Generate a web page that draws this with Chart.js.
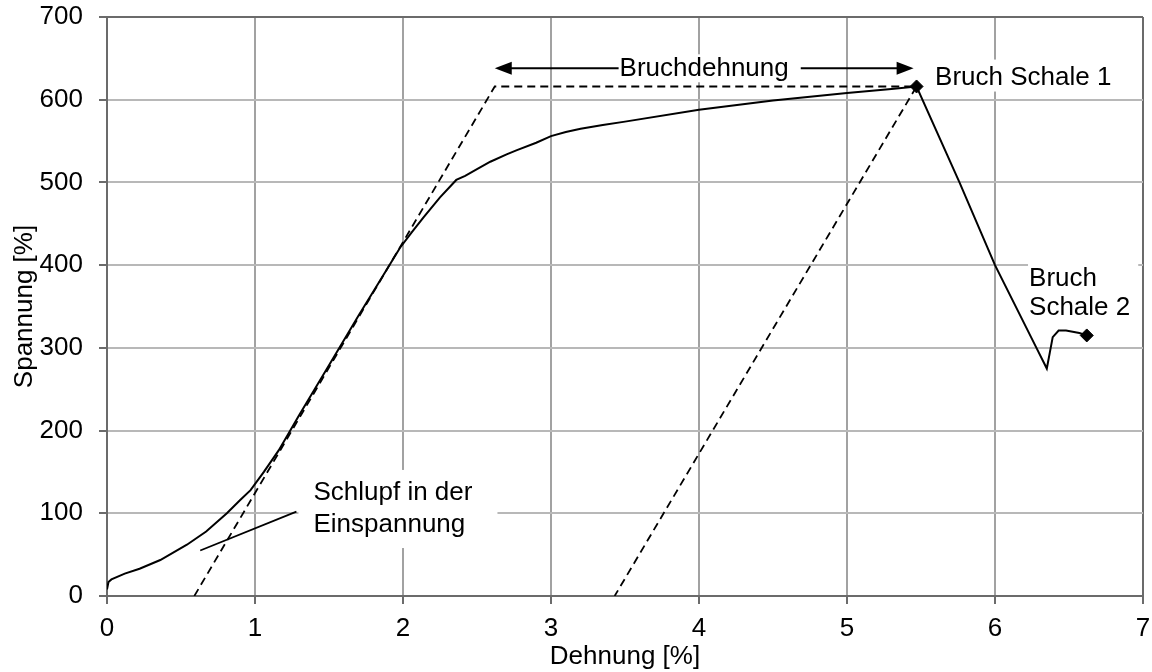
<!DOCTYPE html>
<html>
<head>
<meta charset="utf-8">
<script src="https://cdn.jsdelivr.net/npm/chart.js@4/dist/chart.umd.min.js"></script>
<style>
  html, body { margin: 0; padding: 0; background: #fff; }
  #wrap { width: 1152px; height: 672px; }
</style>
</head>
<body>
<div id="wrap"><canvas id="c"></canvas></div>
<script>
// Measured stress–strain curve (Dehnung in %, Spannung)
const curveStrain = [0, 0.01, 0.03, 0.12, 0.22, 0.36, 0.54, 0.67, 0.81, 0.90, 0.97, 1.06, 1.16, 1.30, 1.50, 1.70, 1.84, 1.98, 2.06, 2.14, 2.25, 2.36, 2.42, 2.50, 2.59, 2.70, 2.77, 2.90, 3.00, 3.10, 3.20, 3.35, 3.50, 4.00, 4.50, 5.00, 5.30, 5.47, 5.76, 6.00, 6.28, 6.35, 6.37, 6.39, 6.43, 6.48, 6.57, 6.62];
const curveStress = [8, 17, 20, 27, 33, 43.5, 62, 78, 100, 116, 128, 150, 176, 219, 279, 339, 380, 421, 440, 458, 482, 503, 508, 516, 525, 534, 539, 548, 556, 561, 565, 569.5, 573.5, 588, 599, 608, 613, 616, 500, 400, 300, 275, 294, 313, 321, 321, 318, 315];

// Failure points of shell 1 and shell 2
const breakStrain = [5.47, 6.62];
const breakStress = [616, 315];

// Elastic construction lines (offset start, yield plateau, unloading line)
const constructionStrain = [0.59, 2.62, 5.47, 3.43];
const constructionStress = [0, 616, 616, 0];

// Leader line for the clamping-slip note
const leaderStrain = [0.63, 1.28];
const leaderStress = [55, 102];

// Axis ticks
const strainTicks = [0, 1, 2, 3, 4, 5, 6, 7];
const stressTicks = [0, 100, 200, 300, 400, 500, 600, 700];

const toPoints = (xs, ys) => xs.map((v, i) => ({ x: v, y: ys[i] }));

const FONT = '"Liberation Sans", Arial, sans-serif';
const AXIS_DARK = '#6b6b6b';

// Elongation-at-break arrow and text notes (placed in data units)
const spanArrow = { from: 2.62, to: 5.45, at: 638, text: 'Bruchdehnung' };
const notes = [
  { lines: ['Bruch Schale 1'], x: 5.595, y: [628], pad: [7, 4, 5, 5] },
  { lines: ['Bruch', 'Schale 2'], x: 6.23, y: [385, 350], pad: [8, 8, 8, 1] },
  { lines: ['Schlupf in der', 'Einspannung'], x: 1.395, y: [125.8, 87], pad: [12, 25, 14, 15] }
];

const annotate = {
  id: 'annotate',
  beforeDatasetsDraw(chart) {
    const { ctx } = chart;
    const sx = chart.scales.x, sy = chart.scales.y;
    ctx.save();
    ctx.font = '26px ' + FONT;
    ctx.textBaseline = 'middle';

    // double-headed arrow with centred label
    const x1 = sx.getPixelForValue(spanArrow.from);
    const x2 = sx.getPixelForValue(spanArrow.to);
    const ya = sy.getPixelForValue(spanArrow.at);
    const head = 17, half = 6.5;
    ctx.strokeStyle = '#000';
    ctx.fillStyle = '#000';
    ctx.lineWidth = 2;
    ctx.beginPath();
    ctx.moveTo(x1 + head - 2, ya);
    ctx.lineTo(x2 - head + 2, ya);
    ctx.stroke();
    ctx.beginPath();
    ctx.moveTo(x1, ya); ctx.lineTo(x1 + head, ya - half); ctx.lineTo(x1 + head, ya + half); ctx.closePath();
    ctx.fill();
    ctx.beginPath();
    ctx.moveTo(x2, ya); ctx.lineTo(x2 - head, ya - half); ctx.lineTo(x2 - head, ya + half); ctx.closePath();
    ctx.fill();
    const tw = ctx.measureText(spanArrow.text).width;
    const xc = (x1 + x2) / 2;
    ctx.fillStyle = '#fff';
    ctx.fillRect(xc - tw / 2 - 1, ya - 14, tw + 13, 28);
    ctx.fillStyle = '#000';
    ctx.textAlign = 'left';
    ctx.fillText(spanArrow.text, xc - tw / 2, ya + 1);

    // text notes on white boxes
    notes.forEach(n => {
      const left = sx.getPixelForValue(n.x);
      const ys = n.y.map(v => sy.getPixelForValue(v));
      const w = Math.max(...n.lines.map(t => ctx.measureText(t).width));
      const top = Math.min(...ys) - 10 - n.pad[0];
      const bottom = Math.max(...ys) + 10 + n.pad[2];
      ctx.fillStyle = '#fff';
      ctx.fillRect(left - n.pad[3], top, w + n.pad[3] + n.pad[1], bottom - top);
      ctx.fillStyle = '#000';
      n.lines.forEach((t, i) => ctx.fillText(t, left, ys[i] + 1));
    });
    ctx.restore();
  }
};

const gridColorX = c => (c.tick && c.tick.value === 7) ? AXIS_DARK : '#a2a2a2';
const gridColorY = c => (c.tick && c.tick.value === 700) ? AXIS_DARK : '#b8b8b8';

new Chart(document.getElementById('c'), {
  type: 'scatter',
  data: {
    datasets: [
      {
        label: 'Bruch',
        data: toPoints(breakStrain, breakStress),
        showLine: false,
        pointStyle: 'rectRot',
        pointRadius: 6.5,
        pointBackgroundColor: '#000',
        pointBorderColor: '#000',
        pointBorderWidth: 1,
        order: 0
      },
      {
        label: 'Spannung',
        data: toPoints(curveStrain, curveStress),
        showLine: true,
        borderColor: '#000',
        borderWidth: 2,
        pointRadius: 0,
        tension: 0,
        order: 1
      },
      {
        label: 'Konstruktion',
        data: toPoints(constructionStrain, constructionStress),
        showLine: true,
        borderColor: '#000',
        borderWidth: 1.8,
        borderDash: [8, 5],
        pointRadius: 0,
        tension: 0,
        order: 2
      },
      {
        label: 'Hinweis',
        data: toPoints(leaderStrain, leaderStress),
        showLine: true,
        borderColor: '#000',
        borderWidth: 1.8,
        pointRadius: 0,
        order: 3
      }
    ]
  },
  options: {
    responsive: true,
    maintainAspectRatio: false,
    animation: false,
    events: [],
    layout: { padding: { top: 17, right: 9, left: 0, bottom: 0 } },
    plugins: {
      legend: { display: false },
      tooltip: { enabled: false }
    },
    scales: {
      x: {
        type: 'linear',
        min: 0,
        max: 7,
        afterBuildTicks: s => { s.ticks = strainTicks.map(v => ({ value: v })); },
        afterFit: s => { s.height = 76; s.paddingLeft = 0; s.paddingRight = 0; },
        ticks: {
          color: '#000',
          font: { family: FONT, size: 26 },
          padding: 9,
          maxRotation: 0,
          callback: v => String(v)
        },
        grid: {
          color: gridColorX,
          lineWidth: 2,
          drawTicks: true,
          tickLength: 8,
          tickColor: AXIS_DARK,
          tickWidth: 2
        },
        border: { display: true, color: AXIS_DARK, width: 2 },
        title: {
          display: true,
          text: 'Dehnung [%]',
          color: '#000',
          font: { family: FONT, size: 26 },
          padding: { top: 0, bottom: 0 }
        }
      },
      y: {
        type: 'linear',
        min: 0,
        max: 700,
        afterBuildTicks: s => { s.ticks = stressTicks.map(v => ({ value: v })); },
        afterFit: s => { s.width = 107; s.paddingTop = 0; s.paddingBottom = 0; },
        ticks: {
          color: '#000',
          font: { family: FONT, size: 26 },
          padding: 16,
          callback: v => String(v)
        },
        grid: {
          color: gridColorY,
          lineWidth: 2,
          drawTicks: true,
          tickLength: 8,
          tickColor: AXIS_DARK,
          tickWidth: 2
        },
        border: { display: true, color: AXIS_DARK, width: 2 },
        title: {
          display: true,
          text: 'Spannung [%]',
          color: '#000',
          font: { family: FONT, size: 26 },
          padding: { top: 9, bottom: 0 }
        }
      }
    }
  },
  plugins: [annotate]
});
</script>
</body>
</html>
